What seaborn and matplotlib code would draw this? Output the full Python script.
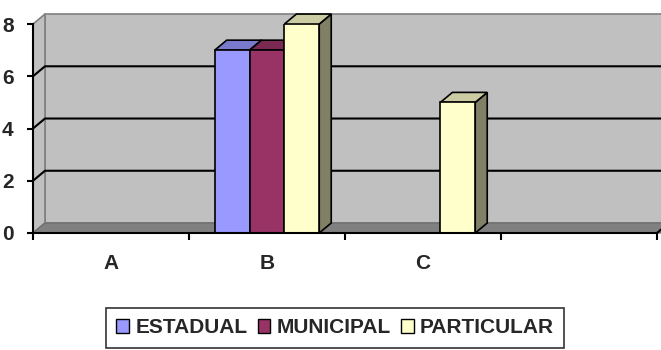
import numpy as np
import pandas as pd
import matplotlib
matplotlib.use("Agg")
import matplotlib.pyplot as plt
from matplotlib.patches import Polygon, Patch
import seaborn as sns

# data
categories = ["A", "B", "C", " "]
series = ["ESTADUAL", "MUNICIPAL", "PARTICULAR"]
estadual = [0, 7, 0, 0]
municipal = [0, 7, 0, 0]
particular = [0, 8, 5, 0]
colors = ["#9999FF", "#993366", "#FFFFCC"]

df = pd.DataFrame({
    "cat": categories * 3,
    "serie": [s for s in series for _ in categories],
    "val": estadual + municipal + particular,
})

sns.set_style("white")
plt.rcParams["font.family"] = ["Liberation Sans", "DejaVu Sans"]
plt.rcParams["font.weight"] = "bold"

fig = plt.figure(figsize=(6.61, 3.5), dpi=100)
ax = fig.add_axes([0.0499, 0.3343, 0.944, 0.597])
ax.set_facecolor("none")

sns.barplot(data=df, x="cat", y="val", hue="serie", order=categories,
            hue_order=series, palette=colors, width=0.67, saturation=1,
            edgecolor="black", linewidth=1.2, legend=False, ax=ax, zorder=5)

ax.set_xlim(-0.5, len(categories) - 0.5)
ax.set_ylim(0, 8)

# depth of the 3d look, in data units (12 px right, 10 px up)
fig_w, fig_h = fig.get_size_inches() * fig.dpi
pos = ax.get_position()
dx = 12 / (pos.width * fig_w / len(categories))
dy = 10 / (pos.height * fig_h / 8)
x0, x1 = -0.5, len(categories) - 0.5 + 0.2

# back wall, side wall, floor
ax.add_patch(Polygon([(x0 + dx, dy), (x1, dy), (x1, 8 + dy), (x0 + dx, 8 + dy)],
                     closed=True, fc="#C0C0C0", ec="#808080", lw=1.2, zorder=0.5, clip_on=False))
ax.add_patch(Polygon([(x0, 0), (x0 + dx, dy), (x0 + dx, 8 + dy), (x0, 8)],
                     closed=True, fc="#C0C0C0", ec="#808080", lw=1.2, zorder=0.6, clip_on=False))
for g in [2, 4, 6]:
    ax.plot([x0, x0 + dx, x1], [g, g + dy, g + dy], color="black", lw=1.5,
            zorder=0.7, clip_on=False)
ax.add_patch(Polygon([(x0, 0), (x1, 0), (x1 + dx, dy), (x0 + dx, dy)],
                     closed=True, fc="#808080", ec="#707070", lw=1, zorder=0.8, clip_on=False))
ax.plot([len(categories) - 0.5, len(categories) - 0.5 + dx], [0, dy],
        color="black", lw=1.5, zorder=3, clip_on=False)


def shade(c, f):
    r, g, b = matplotlib.colors.to_rgb(c)
    return (r * f, g * f, b * f)


# side and top faces of the bars, left to right
bars = sorted([p for p in ax.patches if hasattr(p, "get_height") and p.get_width() < 1],
              key=lambda p: p.get_x())
z = 2
for p in bars:
    h = p.get_height()
    if h <= 0:
        p.set_visible(False)
        continue
    bx, bw = p.get_x(), p.get_width()
    fc = p.get_facecolor()
    ax.add_patch(Polygon([(bx + bw, 0), (bx + bw + dx, dy), (bx + bw + dx, h + dy), (bx + bw, h)],
                         closed=True, fc=shade(fc, 0.5), ec="black", lw=1.2, zorder=z, clip_on=False))
    ax.add_patch(Polygon([(bx, h), (bx + bw, h), (bx + bw + dx, h + dy), (bx + dx, h + dy)],
                         closed=True, fc=shade(fc, 0.8), ec="black", lw=1.2, zorder=z, clip_on=False))
    p.set_zorder(z + 0.5)
    z += 1

# axes
for s in ["top", "right"]:
    ax.spines[s].set_visible(False)
for s in ["left", "bottom"]:
    ax.spines[s].set_color("black")
    ax.spines[s].set_linewidth(1.5)
    ax.spines[s].set_zorder(20)

ax.set_yticks([0, 2, 4, 6, 8])
ax.set_yticklabels(["0", "2", "4", "6", "8"], fontsize=15, fontweight="bold")
ax.tick_params(axis="y", direction="out", length=4, width=1.5, color="black", pad=10, left=True)
ax.set_xticks(np.arange(len(categories) + 1) - 0.5)
ax.set_xticklabels([])
ax.set_xticks(np.arange(len(categories)), minor=True)
ax.set_xticklabels(categories, minor=True, fontsize=15, fontweight="bold")
ax.tick_params(axis="x", which="major", direction="out", length=5, width=1.5, color="black", bottom=True)
ax.tick_params(axis="x", which="minor", length=0, pad=15)
ax.set_xlabel("")
ax.set_ylabel("")

handles = [Patch(fc=c, ec="black", lw=1) for c in colors]
leg = fig.legend(handles, series, loc="center", bbox_to_anchor=(0.507, 0.063), ncol=3,
                 frameon=True, fancybox=False, edgecolor="black", handlelength=0.6,
                 handleheight=0.6, handletextpad=0.3, columnspacing=0.5, borderpad=0.5,
                 prop={"size": 15, "weight": "bold"})
leg.get_frame().set_linewidth(1.2)

fig.savefig("out.png", dpi=100)
